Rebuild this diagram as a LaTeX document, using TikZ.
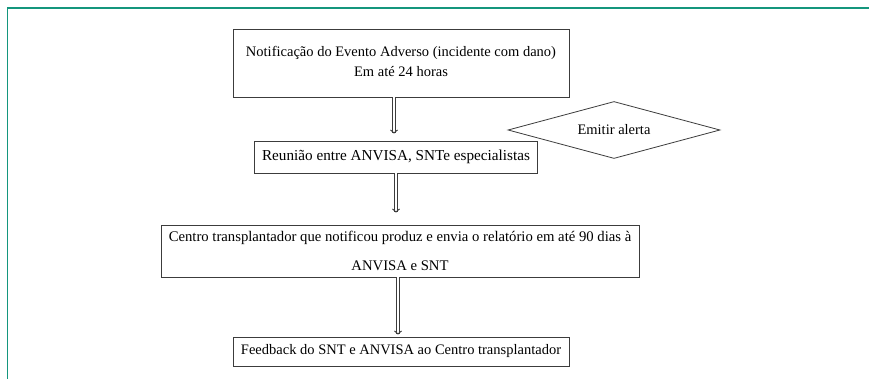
\documentclass[tikz,border=0pt]{standalone}
\usepackage{fontspec}
\setmainfont{Liberation Serif}
\usetikzlibrary{shapes.geometric,arrows.meta}
\definecolor{frameteal}{RGB}{20,150,125}
\definecolor{linegray}{RGB}{60,60,60}
\tikzset{
  box/.style={draw=linegray, line width=0.9pt, rectangle, inner sep=0pt, align=center, font=\fontsize{14.5}{20}\selectfont},
  dia/.style={draw=linegray, line width=0.8pt, diamond, aspect=3.7, inner sep=0pt, font=\fontsize{14.5}{16}\selectfont},
  flow/.style={draw=linegray, line width=0.9pt, double=white, double distance=2.2pt, -{Straight Barb[length=3pt,width=7pt]}}
}
\begin{document}
\begin{tikzpicture}[x=1pt,y=-1pt]
\useasboundingbox (0,0) rectangle (869,379);
\fill[white] (0,0) rectangle (869,379);
\draw[frameteal, line width=1.6pt] (7.5,379) -- (7.5,8) -- (869,8);
\node[box, minimum width=336, minimum height=68] (b1) at (401,63) {\raisebox{5pt}{\begin{tabular}{@{}c@{}}Notificação do Evento Adverso (incidente com dano)\\Em até 24 horas\end{tabular}}};
\node[box, minimum width=283, minimum height=32, font=\fontsize{15.2}{20}\selectfont] (b2) at (396,157) {Reunião entre ANVISA, SNTe especialistas};
\node[dia, minimum width=212, minimum height=57] (d) at (614,130) {Emitir alerta};
\node[box, minimum width=478, minimum height=52, font=\fontsize{14.7}{29}\selectfont] (b3) at (400,251) {Centro transplantador que notificou produz e envia o relatório em até 90 dias à\\ANVISA e SNT};
\node[box, minimum width=336, minimum height=29] (b4) at (401,351.5) {Feedback do SNT e ANVISA ao Centro transplantador};
\draw[flow, shorten >=7pt] ([xshift=-7pt]b1.south) -- ([xshift=-7pt]b1.south |- b2.north);
\draw[flow, shorten >=12pt] (b2.south) -- (b2.south |- b3.north);
\draw[flow, shorten >=2pt] ([xshift=-2pt]b3.south) -- ([xshift=-2pt]b3.south |- b4.north);
\end{tikzpicture}
\end{document}
